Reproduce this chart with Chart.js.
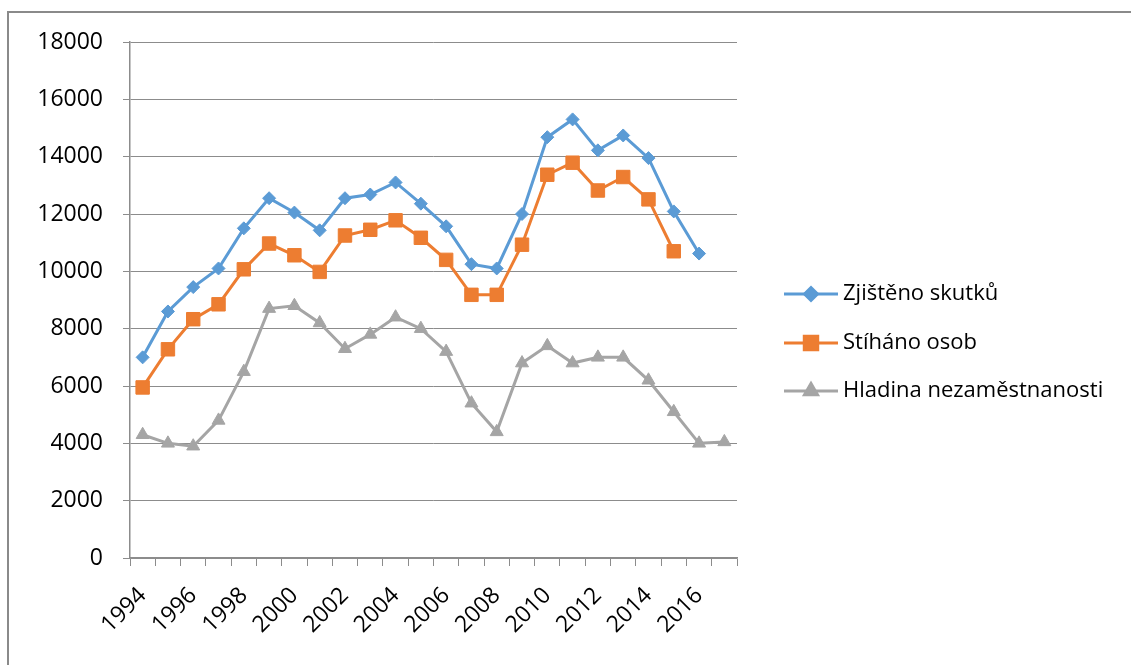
<!DOCTYPE html>
<html>
<head>
<meta charset="utf-8">
<script src="https://cdn.jsdelivr.net/npm/chart.js@4/dist/chart.umd.min.js"></script>
<style>
  html, body { margin: 0; padding: 0; background: #fff; }
  #wrap { position: relative; width: 1131px; height: 665px; overflow: hidden; }
  #frame { position: absolute; left: 7px; top: 11px; width: 1200px; height: 700px;
           border-top: 2px solid #8a8a8a; border-left: 2px solid #8a8a8a; }
  #c { position: absolute; left: 0; top: 0; }
</style>
</head>
<body>
<div id="wrap">
  <div id="frame"></div>
  <canvas id="c" width="1131" height="665"></canvas>
</div>
<script>
// ========== DATA ==========
const years = ['1994', '1995', '1996', '1997', '1998', '1999', '2000', '2001', '2002', '2003',
  '2004', '2005', '2006', '2007', '2008', '2009', '2010', '2011', '2012', '2013',
  '2014', '2015', '2016', '2017'];

const zjistenoSkutku = [7000, 8600, 9450, 10100, 11500, 12550, 12050, 11430, 12550, 12680,
  13100, 12360, 11570, 10250, 10100, 12000, 14680, 15300, 14220, 14740,
  13950, 12090, 10620, null];

const stihanoOsob = [5950, 7280, 8330, 8850, 10070, 10970, 10560, 9980, 11250, 11450,
  11780, 11170, 10400, 9180, 9180, 10930, 13370, 13790, 12820, 13290,
  12510, 10700, null, null];

const hladinaNezam = [4300, 4000, 3900, 4800, 6500, 8700, 8800, 8200, 7300, 7800,
  8400, 8000, 7200, 5400, 4400, 6800, 7400, 6800, 7000, 7000,
  6200, 5100, 4000, 4050];

const seriesNames = ['Zjištěno skutků', 'Stíháno osob', 'Hladina nezaměstnanosti'];
const yTicks = { min: 0, max: 18000, step: 2000 };

// ========== STYLE ==========
const FONT = '"Open Sans", "Liberation Sans", sans-serif';
const GRID = '#8c8c8c';

function series(label, data, color, style, radius) {
  return {
    label: label,
    data: data,
    borderColor: color,
    backgroundColor: color,
    borderWidth: 3,
    pointStyle: style,
    pointRadius: radius,
    pointHoverRadius: radius,
    pointBorderWidth: 1,
    pointBackgroundColor: color,
    pointBorderColor: color,
    tension: 0
  };
}

// legend drawn by hand: line with marker through it, like the original
const sideLegend = {
  id: 'sideLegend',
  afterDraw(chart) {
    const ctx = chart.ctx;
    const x0 = 784, x1 = 838, rows = [294, 343, 391];
    ctx.save();
    chart.data.datasets.forEach((ds, i) => {
      const y = rows[i];
      ctx.strokeStyle = ds.borderColor;
      ctx.lineWidth = 3;
      ctx.beginPath();
      ctx.moveTo(x0, y);
      ctx.lineTo(x1, y);
      ctx.stroke();
      Chart.helpers.drawPoint(ctx, {
        pointStyle: ds.pointStyle, radius: ds.pointRadius, borderWidth: 1, rotation: 0
      }, (x0 + x1) / 2, y);
      ctx.fillStyle = ds.borderColor;
      ctx.fill();
      ctx.fillStyle = '#000';
      ctx.font = '22px ' + FONT;
      ctx.textBaseline = 'middle';
      ctx.textAlign = 'left';
      ctx.fillText(ds.label, x1 + 5, y);
    });
    ctx.restore();
  }
};

new Chart(document.getElementById('c'), {
  type: 'line',
  data: {
    labels: years,
    datasets: [
      series(seriesNames[0], zjistenoSkutku, '#5b9bd5', 'rectRot', 6.5),
      series(seriesNames[1], stihanoOsob, '#ed7d31', 'rect', 9.5),
      series(seriesNames[2], hladinaNezam, '#a5a5a5', 'triangle', 7.5)
    ]
  },
  options: {
    responsive: false,
    animation: false,
    layout: { padding: { left: 0, top: 42, right: 394, bottom: 0 } },
    plugins: {
      legend: { display: false },
      tooltip: { enabled: false }
    },
    scales: {
      x: {
        offset: true,
        grid: { offset: true, drawOnChartArea: false, drawTicks: true, tickLength: 8, color: GRID, lineWidth: 1 },
        border: { color: GRID, width: 1.5 },
        ticks: {
          autoSkip: false, maxRotation: 45, minRotation: 45, padding: 16,
          color: '#000', font: { family: FONT, size: 23 },
          callback: (v, i) => (i % 2 === 0 ? years[i] : '')
        },
        afterFit: s => { s.height = 107; }
      },
      y: {
        min: yTicks.min, max: yTicks.max,
        grid: { color: GRID, lineWidth: 1, tickLength: 7 },
        border: { color: GRID, width: 1.5 },
        ticks: {
          stepSize: yTicks.step, padding: 20, color: '#000', font: { family: FONT, size: 23 },
          callback: v => String(v)
        },
        afterFit: s => { s.width = 130; }
      }
    }
  },
  plugins: [sideLegend]
});
</script>
</body>
</html>
